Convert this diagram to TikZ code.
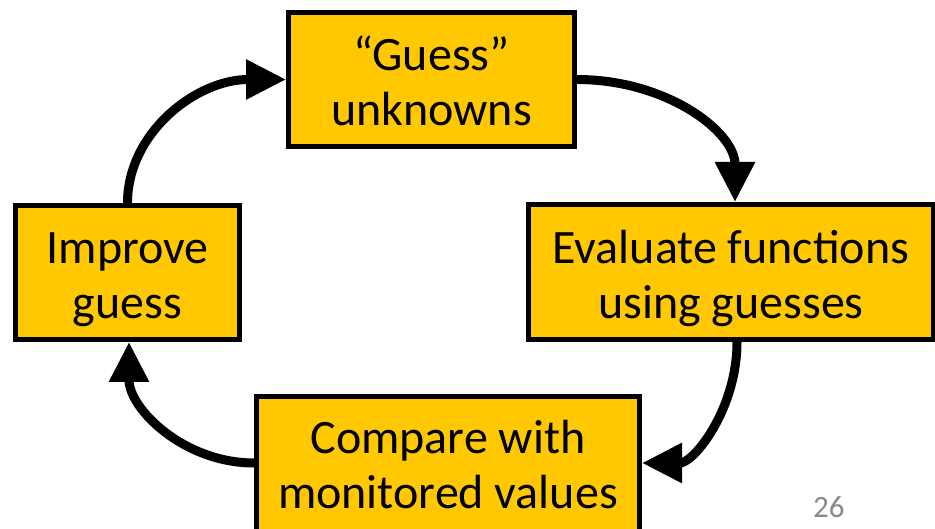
\documentclass[tikz,border=0pt]{standalone}
\usepackage{fontspec}
\setmainfont{Carlito}
\usetikzlibrary{arrows.meta}
\definecolor{boxgold}{RGB}{255,200,0}
\definecolor{pagegray}{RGB}{137,137,137}
\begin{document}
\begin{tikzpicture}[x=1pt,y=-1pt,
  stepbox/.style={draw=black, line width=5pt, fill=boxgold, align=center,
    font=\fontsize{48}{55}\selectfont, inner sep=0pt, text height=93pt, text depth=0pt},
  loopline/.style={line width=9pt, -{Triangle[length=40pt,width=38pt]}}]
\path[use as bounding box] (0,0) rectangle (935,529);
\clip (0,0) rectangle (935,529);
\node[stepbox, minimum width=286pt, minimum height=134pt] (guess) at (431.5,79.5) {“Guess”\\unknowns};
\node[stepbox, minimum width=405pt, minimum height=135pt] (eval) at (731,272) {Evaluate functions\\using guesses};
\node[stepbox, minimum width=383pt, minimum height=140pt, text height=84pt] (compare) at (448,466.5) {Compare with\\monitored values};
\node[stepbox, minimum width=224pt, minimum height=134pt] (improve) at (127.5,272.5) {Improve\\guess};
\draw[loopline] (guess.east) .. controls +(90,0) and +(0,-70) .. ([xshift=4pt]eval.north);
\draw[loopline] ([xshift=6pt]eval.south) .. controls +(0,67) and +(52,0) .. ([yshift=3.5pt]compare.east);
\draw[loopline] ([yshift=3.5pt]compare.west) .. controls +(-70,0) and +(0,67) .. ([xshift=1.5pt]improve.south);
\draw[loopline] (improve.north) .. controls +(0,-70) and +(-90,0) .. (guess.west);
\node[text=pagegray, font=\fontsize{31}{31}\selectfont, anchor=base west, inner sep=0pt] (pagenum) at (813,517) {26};
\end{tikzpicture}
\end{document}
